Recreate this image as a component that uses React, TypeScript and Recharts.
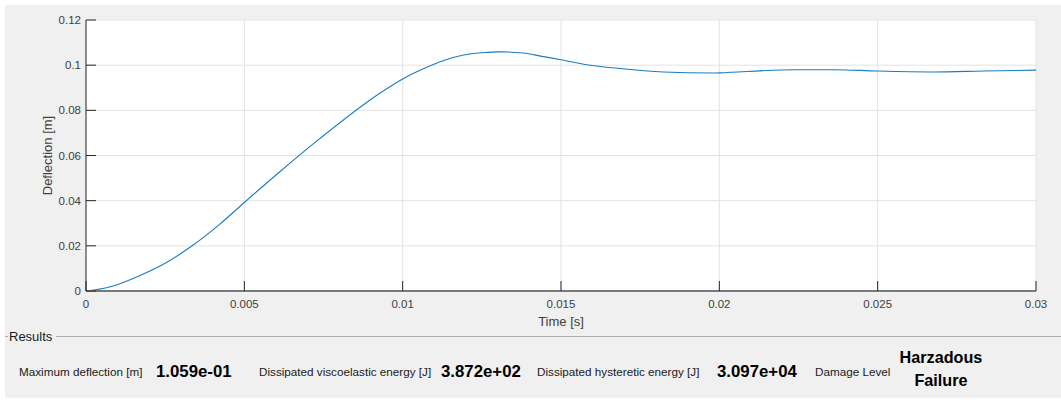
import React from 'react';
import { LineChart, Line, XAxis, YAxis, CartesianGrid } from 'recharts';

const timeS = [0, 0.00034, 0.00086, 0.0016, 0.00244, 0.00334, 0.0042, 0.005, 0.00613, 0.00734, 0.00929, 0.01, 0.01065, 0.0113, 0.01192, 0.0125, 0.01308, 0.01381, 0.0144, 0.015, 0.01581, 0.01687, 0.01823, 0.01981, 0.02, 0.02245, 0.0236, 0.025, 0.02676, 0.02833, 0.03];
const deflectionM = [0, 0.0006, 0.0022, 0.0062, 0.0118, 0.0199, 0.0293, 0.0392, 0.0529, 0.067, 0.0877, 0.0939, 0.0984, 0.1021, 0.1045, 0.1055, 0.1059, 0.1054, 0.1039, 0.1024, 0.1002, 0.0985, 0.097, 0.0965, 0.0966, 0.098, 0.098, 0.0974, 0.097, 0.0974, 0.0978];

const xTicks = [0, 0.005, 0.01, 0.015, 0.02, 0.025, 0.03];
const xTickLabels = ['0', '0.005', '0.01', '0.015', '0.02', '0.025', '0.03'];
const yTicks = [0, 0.02, 0.04, 0.06, 0.08, 0.1, 0.12];
const yTickLabels = ['0', '0.02', '0.04', '0.06', '0.08', '0.1', '0.12'];

const xAxisTitle = 'Time [s]';
const yAxisTitle = 'Deflection [m]';
const panelTitle = 'Results';
const resultLabels = ['Maximum deflection [m]', 'Dissipated viscoelastic energy [J]', 'Dissipated hysteretic energy [J]', 'Damage Level'];
const resultValues = ['1.059e-01', '3.872e+02', '3.097e+04'];
const damageLevel = ['Harzadous', 'Failure'];

const data = timeS.map((t, i) => ({ t, d: deflectionM[i] }));

const FONT = '"Liberation Sans", Arial, Helvetica, sans-serif';
const TICK_LEN = 10;
const TICK_COLOR = '#262626';
const LABEL_COLOR = '#404040';

const findLabel = (ticks: number[], labels: string[], v: number) => {
  const i = ticks.findIndex((t) => Math.abs(t - v) < 1e-9);
  return i >= 0 ? labels[i] : String(v);
};

const LeftTick = (props: any) => {
  const { x, y, payload } = props;
  const ax = x + 5;
  return (
    <g>
      <line x1={ax} x2={ax + TICK_LEN} y1={y} y2={y} stroke={TICK_COLOR} strokeWidth={1} />
      <text x={x} y={y} dy="0.355em" textAnchor="end" fontSize={11.5} fontFamily={FONT} fill={LABEL_COLOR}>
        {findLabel(yTicks, yTickLabels, payload.value)}
      </text>
    </g>
  );
};

const RightTick = (props: any) => {
  const { x, y } = props;
  return <line x1={x} x2={x - TICK_LEN} y1={y} y2={y} stroke={TICK_COLOR} strokeWidth={1} />;
};

const BottomTick = (props: any) => {
  const { x, y, payload } = props;
  const ay = y - 9;
  return (
    <g>
      <line x1={x} x2={x} y1={ay} y2={ay - TICK_LEN} stroke={TICK_COLOR} strokeWidth={1} />
      <text x={x} y={y} dy="0.71em" textAnchor="middle" fontSize={11.5} fontFamily={FONT} fill={LABEL_COLOR}>
        {findLabel(xTicks, xTickLabels, payload.value)}
      </text>
    </g>
  );
};

const TopTick = (props: any) => {
  const { x, y } = props;
  return <line x1={x} x2={x} y1={y} y2={y + TICK_LEN} stroke={TICK_COLOR} strokeWidth={1} />;
};

const rowText: React.CSSProperties = {
  position: 'absolute',
  top: 362,
  height: 20,
  lineHeight: '20px',
  fontSize: 11.7,
  color: '#1a1a1a',
  whiteSpace: 'nowrap',
};
const rowValue: React.CSSProperties = {
  ...rowText,
  fontSize: 16.8,
  fontWeight: 'bold',
  color: '#000',
};

export default function App() {
  return (
    <div style={{ position: 'absolute', left: 0, top: 0, width: 1061, height: 402, background: '#ffffff', fontFamily: FONT, overflow: 'hidden' }}>
      <div style={{ position: 'absolute', left: 5, top: 5, width: 1056, height: 393, background: '#f0f0f0' }} />
      <div style={{ position: 'absolute', left: 0, top: 0 }}>
        <LineChart width={1061} height={330} data={data} margin={{ top: 20, right: 25, bottom: 1, left: 40 }}>
          <CartesianGrid fill="#ffffff" stroke="#e3e3e3" strokeWidth={1} />
          <XAxis
            dataKey="t"
            type="number"
            domain={[0, 0.03]}
            ticks={xTicks}
            interval={0}
            allowDataOverflow
            height={38}
            tickSize={0}
            tickMargin={9}
            tickLine={false}
            tick={<BottomTick />}
            axisLine={{ stroke: '#7a7a7a', strokeWidth: 2 }}
            label={{ value: xAxisTitle, position: 'insideBottom', offset: 3, fontSize: 13, fontFamily: FONT, fill: LABEL_COLOR }}
          />
          <XAxis
            xAxisId="top"
            orientation="top"
            dataKey="t"
            type="number"
            domain={[0, 0.03]}
            ticks={xTicks}
            interval={0}
            allowDataOverflow
            height={0}
            tickSize={0}
            tickMargin={0}
            tickLine={false}
            tick={<TopTick />}
            axisLine={{ stroke: '#7a7a7a', strokeWidth: 1.5 }}
          />
          <YAxis
            type="number"
            domain={[0, 0.12]}
            ticks={yTicks}
            interval={0}
            allowDataOverflow
            width={46}
            tickSize={0}
            tickMargin={5}
            tickLine={false}
            tick={<LeftTick />}
            axisLine={{ stroke: '#2b2b2b', strokeWidth: 1 }}
            label={{ value: yAxisTitle, angle: -90, position: 'insideLeft', offset: 7, fontSize: 13, fontFamily: FONT, fill: LABEL_COLOR, style: { textAnchor: 'middle' } }}
          />
          <YAxis
            yAxisId="right"
            orientation="right"
            type="number"
            domain={[0, 0.12]}
            ticks={yTicks}
            interval={0}
            allowDataOverflow
            width={0}
            tickSize={0}
            tickMargin={0}
            tickLine={false}
            tick={<RightTick />}
            axisLine={{ stroke: '#2b2b2b', strokeWidth: 1 }}
          />
          <Line type="monotone" dataKey="d" stroke="#1a7cc1" strokeWidth={1.1} dot={false} activeDot={false} isAnimationActive={false} />
        </LineChart>
      </div>

      <div style={{ position: 'absolute', left: 5, top: 336, width: 3, height: 0, borderTop: '1px solid #b0b0b0' }} />
      <div style={{ position: 'absolute', left: 56, top: 336, width: 1005, height: 0, borderTop: '1px solid #b0b0b0' }} />
      <div style={{ position: 'absolute', left: 9, top: 329, height: 16, lineHeight: '16px', fontSize: 13, color: '#1a1a1a' }}>{panelTitle}</div>

      <div style={{ ...rowText, left: 19 }}>{resultLabels[0]}</div>
      <div style={{ ...rowValue, left: 156 }}>{resultValues[0]}</div>
      <div style={{ ...rowText, left: 259 }}>{resultLabels[1]}</div>
      <div style={{ ...rowValue, left: 441 }}>{resultValues[1]}</div>
      <div style={{ ...rowText, left: 537 }}>{resultLabels[2]}</div>
      <div style={{ ...rowValue, left: 717 }}>{resultValues[2]}</div>
      <div style={{ ...rowText, left: 815 }}>{resultLabels[3]}</div>
      <div style={{ ...rowValue, left: 881, width: 120, top: 347, textAlign: 'center', fontSize: 16.2 }}>{damageLevel[0]}</div>
      <div style={{ ...rowValue, left: 881, width: 120, top: 370, textAlign: 'center', fontSize: 16.2 }}>{damageLevel[1]}</div>
    </div>
  );
}
